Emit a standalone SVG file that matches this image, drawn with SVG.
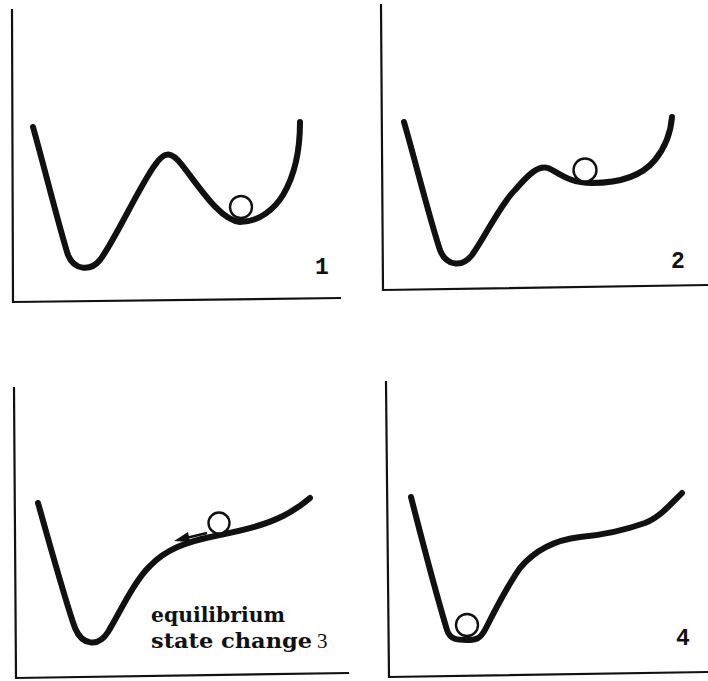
<svg xmlns="http://www.w3.org/2000/svg" width="708" height="681" viewBox="0 0 708 681">
<style>
.axis{fill:none;stroke:#111;stroke-width:2.2;stroke-linecap:square}
.curve{fill:none;stroke:#111;stroke-width:6;stroke-linecap:round;stroke-linejoin:round}
.ball{fill:#fff;stroke:#111;stroke-width:2.4}
.num{font-family:"Liberation Mono","DejaVu Sans Mono",monospace;font-weight:bold;font-size:23px;fill:#111}
.lbl{font-family:"DejaVu Serif","Liberation Serif",serif;font-weight:bold;font-size:20px;fill:#111}
</style>
<rect width="708" height="681" fill="#fff"/>
<g id="panel1">
<path class="axis" d="M12,10 L13,302 L340,298"/>
<path class="curve" d="M33,127 C45,170 60,230 68,255 C74,270 90,272 100,260 C115,240 140,185 155,165 C165,150 172,152 182,165 C200,188 220,220 240,222 C260,222 275,208 283,195 C295,175 300,150 300,122"/>
<circle class="ball" cx="241" cy="207" r="11"/>
<text class="num" x="322" y="274" text-anchor="middle">1</text>
</g>
<g id="panel2">
<path class="axis" d="M381,5 L383,290 L708,285"/>
<path class="curve" d="M404,122 C415,160 430,220 440,250 C446,266 462,268 472,255 C485,237 500,205 515,190 C528,175 538,165 548,168 C558,172 568,183 592,183 C615,183 640,178 655,160 C667,145 671,130 672,117"/>
<circle class="ball" cx="585" cy="170" r="11.5"/>
<text class="num" x="678" y="268" text-anchor="middle">2</text>
</g>
<g id="panel3">
<path class="axis" d="M14,388 L16,678 L348,673"/>
<path class="curve" d="M38,503 C50,545 65,600 75,628 C82,645 98,648 108,632 C120,612 135,580 150,566 C165,550 185,542 215,536 C245,530 265,525 283,516 C295,510 303,504 310,498"/>
<circle class="ball" cx="219" cy="523" r="10.5"/>
<g id="arrow">
<line x1="207" y1="533" x2="184" y2="538.5" stroke="#111" stroke-width="2.5"/>
<polygon points="174,541 188,532 190,542" fill="#111"/>
</g>
<text class="lbl" x="151" y="622" textLength="134" lengthAdjust="spacingAndGlyphs">equilibrium</text>
<text class="lbl" x="151" y="648"><tspan textLength="161" lengthAdjust="spacingAndGlyphs">state change</tspan><tspan x="317" font-family="Liberation Serif, serif" font-weight="normal" font-size="21">3</tspan></text>
</g>
<g id="panel4">
<path class="axis" d="M386,382 L389,677 L708,672"/>
<path class="curve" d="M411,497 C422,540 438,600 447,630 C450,640 458,640 467,640 C475,640 480,640 486,628 C495,610 508,585 520,568 C535,550 555,540 580,537 C605,535 625,530 645,523 C660,517 672,503 682,493"/>
<circle class="ball" cx="467" cy="625" r="11"/>
<text class="num" x="683" y="645" text-anchor="middle">4</text>
</g>
</svg>
